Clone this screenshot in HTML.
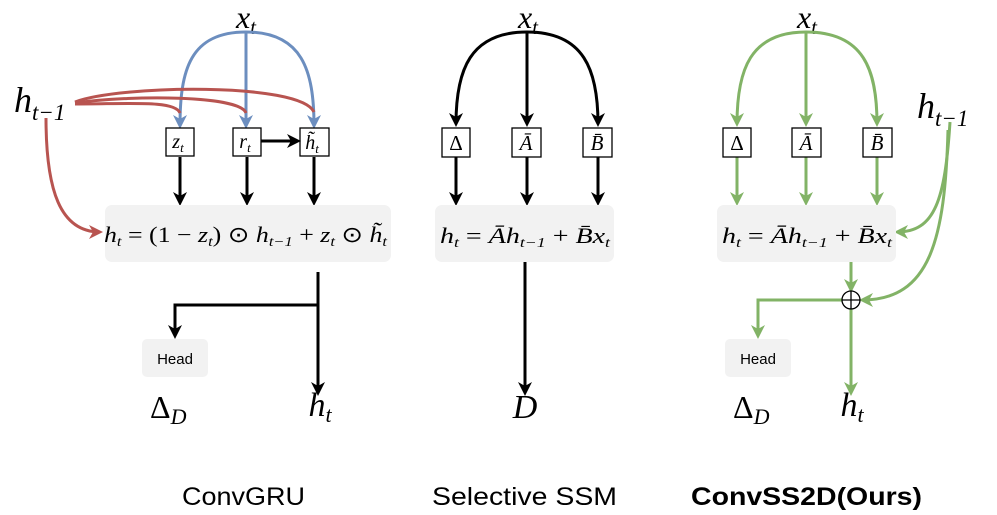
<!DOCTYPE html>
<html><head><meta charset="utf-8"><style>
html,body{margin:0;padding:0;background:#fff;}
svg{display:block}
.m{font-family:"Liberation Serif",serif;font-style:italic;}
.s{font-family:"Liberation Sans",sans-serif;}
</style></head><body>
<svg width="997" height="515" viewBox="0 0 997 515" xmlns="http://www.w3.org/2000/svg">
<defs>
<marker id="ak" markerWidth="14" markerHeight="14" refX="11" refY="7" orient="auto" markerUnits="userSpaceOnUse"><path d="M0,0 L14,7 L0,14 L4,7 Z" fill="#000"/></marker>
<marker id="ab" markerWidth="14" markerHeight="14" refX="11" refY="7" orient="auto" markerUnits="userSpaceOnUse"><path d="M0,0 L14,7 L0,14 L4,7 Z" fill="#6c8ebf"/></marker>
<marker id="ar" markerWidth="14" markerHeight="14" refX="11" refY="7" orient="auto" markerUnits="userSpaceOnUse"><path d="M0,0 L14,7 L0,14 L4,7 Z" fill="#b85450"/></marker>
<marker id="ag" markerWidth="14" markerHeight="14" refX="11" refY="7" orient="auto" markerUnits="userSpaceOnUse"><path d="M0,0 L14,7 L0,14 L4,7 Z" fill="#82b366"/></marker>
</defs>

<!-- ConvGRU -->
<text x="246" y="28" class="m" font-size="32" text-anchor="middle">x<tspan font-size="21" dy="6">t</tspan></text>
<g stroke="#6c8ebf" stroke-width="3" fill="none">
<path d="M246,32 L246,126" marker-end="url(#ab)"/>
<path d="M246,32 C190,32 180,70 180,126" marker-end="url(#ab)"/>
<path d="M246,32 C302,32 314,70 314,126" marker-end="url(#ab)"/>
</g>
<text x="14" y="112" class="m" font-size="36">h<tspan font-size="23" dy="8">t−1</tspan></text>
<g stroke="#b85450" stroke-width="3" fill="none">
<path d="M75,102 C120,85 300,82 314,112"/>
<path d="M75,103 C130,95 240,95 246,113"/>
<path d="M75,104 C130,104 175,100 180,113"/>
<path d="M46,118 C46,190 60,232 100,232" marker-end="url(#ar)"/>
</g>
<g fill="#fff" stroke="#000" stroke-width="1.3">
<rect x="166" y="128" width="28" height="28"/>
<rect x="233" y="128" width="28" height="28"/>
<rect x="300" y="128" width="29" height="28"/>
</g>
<text x="178" y="148" class="m" font-size="20" text-anchor="middle">z<tspan font-size="13" dy="4">t</tspan></text>
<text x="245" y="148" class="m" font-size="20" text-anchor="middle">r<tspan font-size="13" dy="4">t</tspan></text>
<text x="312" y="149" class="m" font-size="20" text-anchor="middle">h̃<tspan font-size="13" dy="4">t</tspan></text>
<g stroke="#000" stroke-width="3" fill="none">
<path d="M261,141 L298,141" marker-end="url(#ak)"/>
<path d="M180,157 L180,203" marker-end="url(#ak)"/>
<path d="M247,157 L247,203" marker-end="url(#ak)"/>
<path d="M314,157 L314,203" marker-end="url(#ak)"/>
</g>
<rect x="105" y="205" width="286" height="57" rx="7" fill="#f2f2f2"/>
<text x="104" y="242" class="m" font-size="22" textLength="283" lengthAdjust="spacingAndGlyphs">h<tspan font-size="14" dy="4">t</tspan><tspan dy="-4" font-style="normal"> = (1 − </tspan><tspan>z</tspan><tspan font-size="14" dy="4">t</tspan><tspan dy="-4" font-style="normal">) ⊙ </tspan><tspan>h</tspan><tspan font-size="14" dy="4">t−1</tspan><tspan dy="-4" font-style="normal"> + </tspan><tspan>z</tspan><tspan font-size="14" dy="4">t</tspan><tspan dy="-4" font-style="normal"> ⊙ </tspan><tspan>h̃</tspan><tspan font-size="14" dy="4">t</tspan></text>
<g stroke="#000" stroke-width="3" fill="none">
<path d="M318,272 L318,393" marker-end="url(#ak)"/>
<path d="M318,305 L175,305 L175,336" marker-end="url(#ak)"/>
</g>
<rect x="142" y="339" width="66" height="38" rx="5" fill="#f2f2f2"/>
<text x="175" y="364" class="s" font-size="15" text-anchor="middle">Head</text>
<text x="150" y="418" font-family="Liberation Serif,serif" font-size="32">Δ<tspan class="m" font-size="22" dy="6">D</tspan></text>
<text x="320" y="416" class="m" font-size="34" text-anchor="middle">h<tspan font-size="22" dy="6">t</tspan></text>

<!-- Selective SSM -->
<text x="528" y="28" class="m" font-size="32" text-anchor="middle">x<tspan font-size="21" dy="6">t</tspan></text>
<g stroke="#000" stroke-width="3" fill="none">
<path d="M527,32 L527,124" marker-end="url(#ak)"/>
<path d="M527,32 C470,32 456,70 456,124" marker-end="url(#ak)"/>
<path d="M527,32 C584,32 598,70 598,124" marker-end="url(#ak)"/>
<path d="M456,157 L456,203" marker-end="url(#ak)"/>
<path d="M527,157 L527,203" marker-end="url(#ak)"/>
<path d="M598,157 L598,203" marker-end="url(#ak)"/>
<path d="M525,262 L525,393" marker-end="url(#ak)"/>
</g>
<g fill="#fff" stroke="#000" stroke-width="1.3">
<rect x="442" y="128" width="28" height="29"/>
<rect x="512" y="128" width="29" height="29"/>
<rect x="583" y="128" width="29" height="29"/>
</g>
<text x="456" y="150" font-family="Liberation Serif,serif" font-size="21" text-anchor="middle">Δ</text>
<text x="526" y="150" class="m" font-size="21" text-anchor="middle">Ā</text>
<text x="597" y="150" class="m" font-size="21" text-anchor="middle">B̄</text>
<rect x="435" y="205" width="179" height="57" rx="7" fill="#f2f2f2"/>
<text x="440" y="243" class="m" font-size="22" textLength="170" lengthAdjust="spacingAndGlyphs">h<tspan font-size="14" dy="4">t</tspan><tspan dy="-4" font-style="normal"> = </tspan><tspan>Āh</tspan><tspan font-size="14" dy="4">t−1</tspan><tspan dy="-4" font-style="normal"> + </tspan><tspan>B̄x</tspan><tspan font-size="14" dy="4">t</tspan></text>
<text x="525" y="418" class="m" font-size="34" text-anchor="middle">D</text>

<!-- ConvSS2D -->
<text x="807" y="28" class="m" font-size="32" text-anchor="middle">x<tspan font-size="21" dy="6">t</tspan></text>
<text x="917" y="118" class="m" font-size="36">h<tspan font-size="23" dy="8">t−1</tspan></text>
<g stroke="#82b366" stroke-width="3" fill="none">
<path d="M806,32 L806,124" marker-end="url(#ag)"/>
<path d="M806,32 C750,32 737,70 737,124" marker-end="url(#ag)"/>
<path d="M806,32 C864,32 877,70 877,124" marker-end="url(#ag)"/>
<path d="M737,157 L737,203" marker-end="url(#ag)"/>
<path d="M806,157 L806,203" marker-end="url(#ag)"/>
<path d="M877,157 L877,203" marker-end="url(#ag)"/>
<path d="M950,122 C945,200 935,232 897,232" marker-end="url(#ag)"/>
<path d="M948,130 C945,240 930,300 862,300" marker-end="url(#ag)"/>
<path d="M851,262 L851,290" marker-end="url(#ag)"/>
<path d="M851,309 L851,393" marker-end="url(#ag)"/>
<path d="M842,300 L758,300 L758,336" marker-end="url(#ag)"/>
</g>
<g fill="#fff" stroke="#000" stroke-width="1.3">
<rect x="723" y="128" width="28" height="29"/>
<rect x="792" y="128" width="29" height="29"/>
<rect x="863" y="128" width="29" height="29"/>
</g>
<text x="737" y="150" font-family="Liberation Serif,serif" font-size="21" text-anchor="middle">Δ</text>
<text x="806" y="150" class="m" font-size="21" text-anchor="middle">Ā</text>
<text x="877" y="150" class="m" font-size="21" text-anchor="middle">B̄</text>
<rect x="717" y="205" width="179" height="57" rx="7" fill="#f2f2f2"/>
<text x="722" y="243" class="m" font-size="22" textLength="170" lengthAdjust="spacingAndGlyphs">h<tspan font-size="14" dy="4">t</tspan><tspan dy="-4" font-style="normal"> = </tspan><tspan>Āh</tspan><tspan font-size="14" dy="4">t−1</tspan><tspan dy="-4" font-style="normal"> + </tspan><tspan>B̄x</tspan><tspan font-size="14" dy="4">t</tspan></text>
<circle cx="851" cy="300" r="9" fill="#fff" stroke="#000" stroke-width="1.3"/>
<path d="M842,300 L860,300 M851,291 L851,309" stroke="#000" stroke-width="1.3"/>
<rect x="725" y="339" width="66" height="38" rx="5" fill="#f2f2f2"/>
<text x="758" y="364" class="s" font-size="15" text-anchor="middle">Head</text>
<text x="733" y="418" font-family="Liberation Serif,serif" font-size="32">Δ<tspan class="m" font-size="22" dy="6">D</tspan></text>
<text x="852" y="416" class="m" font-size="34" text-anchor="middle">h<tspan font-size="22" dy="6">t</tspan></text>

<!-- captions -->
<text x="182" y="505" class="s" font-size="25" textLength="123" lengthAdjust="spacingAndGlyphs">ConvGRU</text>
<text x="432" y="505" class="s" font-size="25" textLength="185" lengthAdjust="spacingAndGlyphs">Selective SSM</text>
<text x="691" y="505" class="s" font-size="25" font-weight="bold" textLength="231" lengthAdjust="spacingAndGlyphs">ConvSS2D(Ours)</text>
</svg>
</body></html>
